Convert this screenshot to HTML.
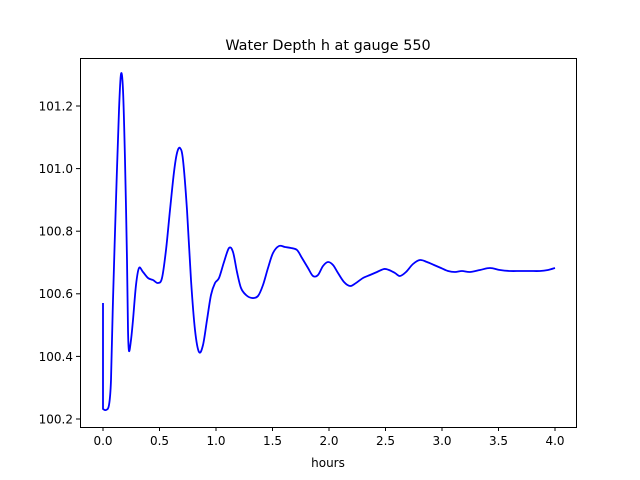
<!DOCTYPE html>
<html><head><meta charset="utf-8"><style>body{margin:0;background:#fff}svg{display:block}text{font-family:"DejaVu Sans","Liberation Sans",sans-serif;font-size:12px;fill:#000}</style></head>
<body>
<svg width="640" height="480" xmlns="http://www.w3.org/2000/svg">
<rect width="640" height="480" fill="#fff"/>
<text x="328" y="50" text-anchor="middle" style="font-size:14.4px">Water Depth h at gauge 550</text>
<path id="p" fill="none" stroke="#0000ff" stroke-width="1.8" stroke-linejoin="round" d=""/>
<rect x="80.5" y="58.5" width="496" height="369" fill="none" stroke="#000" stroke-width="1"/>
<g stroke="#000">
<line x1="103" y1="427" x2="103" y2="431"/><line x1="159.5" y1="427" x2="159.5" y2="431"/><line x1="216" y1="427" x2="216" y2="431"/><line x1="272.5" y1="427" x2="272.5" y2="431"/><line x1="329" y1="427" x2="329" y2="431"/><line x1="385.5" y1="427" x2="385.5" y2="431"/><line x1="442" y1="427" x2="442" y2="431"/><line x1="498.5" y1="427" x2="498.5" y2="431"/><line x1="555" y1="427" x2="555" y2="431"/>
<line x1="76" y1="419" x2="80" y2="419"/><line x1="76" y1="356.4" x2="80" y2="356.4"/><line x1="76" y1="293.8" x2="80" y2="293.8"/><line x1="76" y1="231.2" x2="80" y2="231.2"/><line x1="76" y1="168.6" x2="80" y2="168.6"/><line x1="76" y1="106" x2="80" y2="106"/>
</g>
<g text-anchor="middle">
<text x="103" y="445">0.0</text><text x="159.5" y="445">0.5</text><text x="216" y="445">1.0</text><text x="272.5" y="445">1.5</text><text x="329" y="445">2.0</text><text x="385.5" y="445">2.5</text><text x="442" y="445">3.0</text><text x="498.5" y="445">3.5</text><text x="555" y="445">4.0</text>
<text x="328" y="467">hours</text>
</g>
<g text-anchor="end">
<text x="73" y="423.5">100.2</text><text x="73" y="361">100.4</text><text x="73" y="298">100.6</text><text x="73" y="235.5">100.8</text><text x="73" y="173">101.0</text><text x="73" y="110.5">101.2</text>
</g>
</svg>
<script>
var s="103,303 103,409 106,410 109,405 111,380 113,300 116,200 119,110 121,74 123,90 125,160 127,260 128,330 129,351 131,340 133,320 136,285 139,268 143,272 148,278 153,280 158,283 162,278 166,250 170,210 174,172 177,153 180,148 183,160 187,210 191,280 195,330 199,352 203,345 207,320 211,295 215,283 219,278 224,262 229,248 233,252 237,272 241,288 246,295 252,298 258,296 263,285 268,268 273,253 279,246 285,247 291,248 297,250 302,258 308,268 313,276 318,275 323,266 328,262 333,265 338,273 344,282 350,286 356,283 363,278 370,275 377,272 384,269 389,270 395,273 400,276 406,272 413,264 420,260 427,262 434,265 441,268 448,271 455,272 462,271 470,272 480,270 490,268 500,270 510,271 520,271 530,271 540,271 548,270 555,268";
var P=s.split(" ").map(function(t){return t.split(",").map(Number)});
var d="M"+P[0][0]+","+P[0][1]+" L"+P[1][0]+","+P[1][1];
for(var i=1;i<P.length-1;i++){var p0=P[i-1],p1=P[i],p2=P[i+1],p3=P[Math.min(i+2,P.length-1)];
if(i==1)p0=p1;
var c1=[p1[0]+(p2[0]-p0[0])/6,p1[1]+(p2[1]-p0[1])/6],c2=[p2[0]-(p3[0]-p1[0])/6,p2[1]-(p3[1]-p1[1])/6];
d+=" C"+c1.join(",")+" "+c2.join(",")+" "+p2.join(",");}
document.getElementById("p").setAttribute("d",d);
</script>
</body></html>
